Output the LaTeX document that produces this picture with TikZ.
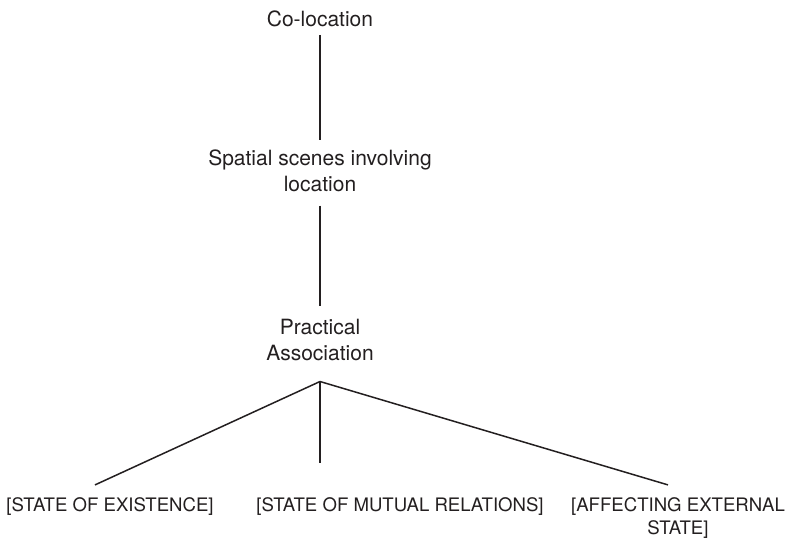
\documentclass[tikz,border=0pt]{standalone}
\usepackage{fontspec}
\setmainfont{TeX Gyre Heros}
\definecolor{ink}{HTML}{231F20}
\begin{document}
\begin{tikzpicture}[x=1pt,y=-1pt,
  lbl/.style={inner sep=0pt, text=ink, align=center, anchor=base,
    font=\fontsize{21}{26.5}\selectfont},
  caps/.style={lbl, font=\fontsize{18.6}{23}\selectfont},
  link/.style={draw=ink, line width=1.5pt}]
\useasboundingbox (0,0) rectangle (788,540);

% levels of the hierarchy (multi-line nodes sit on their last baseline)
\node[lbl] (colo) at (320,27) {Co-location};
\node[lbl] (spatial) at (320,192) {Spatial scenes involving\\location};
\node[lbl] (prac) at (320,361) {Practical\\Association};

% the three subtypes
\node[caps] (exist) at (110,511) {[STATE OF EXISTENCE]};
\node[caps] (mutual) at (400,511) {[STATE OF MUTUAL RELATIONS]};
\node[caps] (affect) at (678,534) {[AFFECTING EXTERNAL\\STATE]};

% vertical links
\draw[link] ([yshift=-8pt]colo.base) -- ([yshift=10pt]spatial.north);
\draw[link] ([yshift=-13pt]spatial.south) -- ([yshift=13pt]prac.north);

% fork below the last level
\coordinate (fork) at ([yshift=-20pt]prac.south);
\draw[link] (fork) -- ([xshift=-15pt,yshift=12pt]exist.north);
\draw[link] (fork) -- ([xshift=-80pt,yshift=34pt]mutual.north);
\draw[link] (fork) -- ([xshift=-10pt,yshift=12pt]affect.north);
\end{tikzpicture}
\end{document}
